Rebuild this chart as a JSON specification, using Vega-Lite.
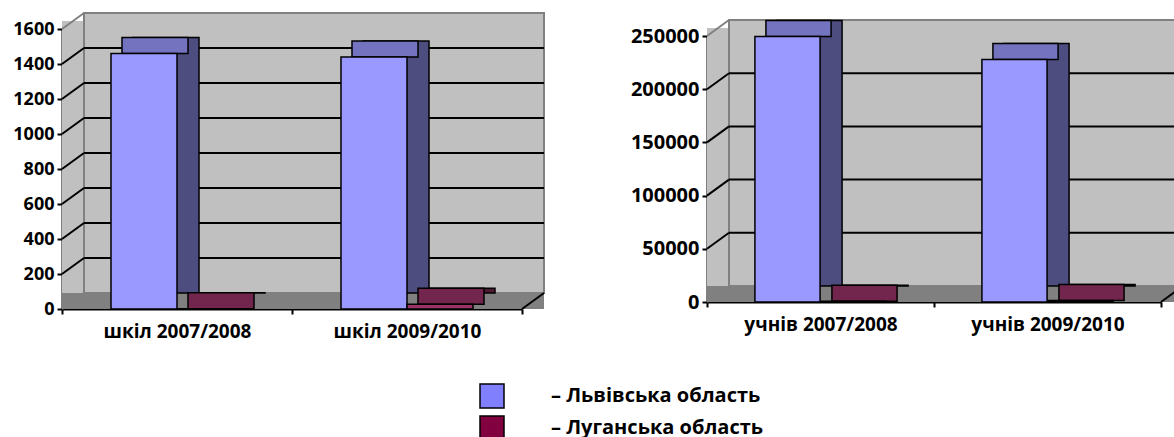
{
  "$schema": "https://vega.github.io/schema/vega-lite/v6.json",
  "autosize": {"type": "pad"},
  "bounds": "flush",
  "padding": {"left": 12, "top": 12, "right": 0, "bottom": 0},
  "background": "white",
  "spacing": 185,
  "center": true,
  "config": {
    "font": "Open Sans",
    "view": {"stroke": null},
    "axis": {
      "labelFont": "Open Sans",
      "labelFontWeight": "bold",
      "labelFontSize": 18,
      "labelColor": "black",
      "domainColor": "black",
      "domainWidth": 2,
      "tickColor": "black",
      "tickWidth": 2,
      "grid": false
    },
    "legend": {
      "orient": "none", "legendX": 417, "legendY": 354, "direction": "vertical",
      "symbolType": "square", "symbolSize": 576, "symbolStrokeColor": "black", "symbolStrokeWidth": 1.5,
      "labelFont": "Open Sans", "labelFontWeight": "bold", "labelFontSize": 20, "labelColor": "black",
      "labelOffset": 46, "rowPadding": 2, "padding": 0, "labelLimit": 400
    }
  },
  "hconcat": [
    {
      "width": 460,
      "height": 280,
      "data": {"values": [
        {"cat": "шкіл 2007/2008", "region": "Львівська область", "value": 1460},
        {"cat": "шкіл 2007/2008", "region": "Луганська область", "value": 2},
        {"cat": "шкіл 2009/2010", "region": "Львівська область", "value": 1440},
        {"cat": "шкіл 2009/2010", "region": "Луганська область", "value": 27}
      ]},
      "encoding": {
        "x": {"field": "cat", "type": "nominal", "title": null,
          "scale": {"paddingInner": 0, "paddingOuter": 0},
          "axis": {"tickBand": "extent", "tickSize": 5, "labelPadding": 8, "labelAngle": 0, "labelFontSize": 19}},
        "y": {"field": "value", "type": "quantitative", "title": null,
          "scale": {"domain": [0, 1600], "nice": false},
          "axis": {"values": [0, 200, 400, 600, 800, 1000, 1200, 1400, 1600], "format": "d", "tickSize": 5, "labelPadding": 3}}
      },
      "layer": [
        {
          "data": {"values": [{"region": "Львівська область", "lo": 0}, {"region": "Луганська область", "lo": 0}]},
          "mark": {"type": "rect", "strokeWidth": 0},
          "encoding": {
            "x": {"value": 0}, "x2": {"value": 0},
            "y": {"field": "lo"}, "y2": {"field": "lo"},
            "color": {"field": "region", "type": "nominal",
              "scale": {"domain": ["Львівська область", "Луганська область"], "range": ["#8080ff", "#800040"]},
              "legend": {"title": null, "labelExpr": "'–  ' + datum.label"}}
          }
        },
        {
          "data": {"values": [{"lo": 0, "hi": 1600}]},
          "mark": {"type": "rect", "fill": "#c0c0c0", "yOffset": -8, "y2Offset": -8},
          "encoding": {
            "x": {"value": 0}, "x2": {"value": 22},
            "y": {"field": "lo"}, "y2": {"field": "hi"}
          }
        },
        {
          "data": {"values": [{"lo": 0, "hi": 1600}]},
          "mark": {"type": "rect", "fill": "#c0c0c0", "stroke": "#808080", "strokeWidth": 2, "xOffset": 22, "x2Offset": 22, "yOffset": -16, "y2Offset": -16},
          "encoding": {
            "x": {"value": 0}, "x2": {"value": "width"},
            "y": {"field": "lo"}, "y2": {"field": "hi"}
          }
        },
        {
          "data": {"values": [{"lo": 0}]},
          "mark": {"type": "rect", "fill": "#808080", "x2Offset": 22, "yOffset": -16},
          "encoding": {
            "x": {"value": 0}, "x2": {"value": "width"},
            "y": {"field": "lo"}, "y2": {"field": "lo"}
          }
        },
        {
          "data": {"values": [{"g": 200}, {"g": 400}, {"g": 600}, {"g": 800}, {"g": 1000}, {"g": 1200}, {"g": 1400}]},
          "mark": {"type": "rule", "color": "black", "strokeWidth": 2, "xOffset": 22, "x2Offset": 22, "yOffset": -16, "y2Offset": -16},
          "encoding": {
            "x": {"value": 0}, "x2": {"value": "width"},
            "y": {"field": "g"}, "y2": {"field": "g"}
          }
        },
        {
          "data": {"values": [{"g": 200}, {"g": 400}, {"g": 600}, {"g": 800}, {"g": 1000}, {"g": 1200}, {"g": 1400}]},
          "mark": {"type": "rule", "color": "black", "strokeWidth": 2, "x2Offset": -438, "y2Offset": -16},
          "encoding": {
            "x": {"value": 0}, "x2": {"value": "width"},
            "y": {"field": "g"}, "y2": {"field": "g"}
          }
        },
        {
          "data": {"values": [{"g": 0}, {"g": 1600}]},
          "mark": {"type": "rule", "color": "#808080", "strokeWidth": 2, "x2Offset": -438, "y2Offset": -16},
          "encoding": {
            "x": {"value": 0}, "x2": {"value": "width"},
            "y": {"field": "g"}, "y2": {"field": "g"}
          }
        },
        {
          "data": {"values": [{"g": 0}]},
          "mark": {"type": "rule", "color": "black", "strokeWidth": 2, "x2Offset": 22, "y2Offset": -16},
          "encoding": {
            "x": {"value": "width"}, "x2": {"value": "width"},
            "y": {"field": "g"}, "y2": {"field": "g"}
          }
        },
        {
          "transform": [{"filter": "datum.region === 'Львівська область'"}],
          "mark": {"type": "bar", "fill": "#4d4d80", "stroke": "black", "strokeWidth": 1.5, "width": {"band": 0.287}, "xOffset": -11, "yOffset": -16, "y2Offset": -16},
          "encoding": {}
        },
        {
          "transform": [{"filter": "datum.region === 'Львівська область'"}],
          "mark": {"type": "bar", "fill": "#7373bf", "stroke": "black", "strokeWidth": 1.5, "width": {"band": 0.287}, "xOffset": -22, "yOffset": -16},
          "encoding": {"y2": {"field": "value"}}
        },
        {
          "transform": [{"filter": "datum.region === 'Львівська область'"}],
          "mark": {"type": "bar", "fill": "#9999ff", "stroke": "black", "strokeWidth": 1.5, "width": {"band": 0.287}, "xOffset": -33},
          "encoding": {}
        },
        {
          "transform": [{"filter": "datum.region === 'Луганська область'"}],
          "mark": {"type": "bar", "fill": "#4d1933", "stroke": "black", "strokeWidth": 1.5, "width": {"band": 0.287}, "xOffset": 55, "yOffset": -16, "y2Offset": -16},
          "encoding": {}
        },
        {
          "transform": [{"filter": "datum.region === 'Луганська область'"}],
          "mark": {"type": "bar", "fill": "#73264d", "stroke": "black", "strokeWidth": 1.5, "width": {"band": 0.287}, "xOffset": 44, "yOffset": -16},
          "encoding": {"y2": {"field": "value"}}
        },
        {
          "transform": [{"filter": "datum.region === 'Луганська область'"}],
          "mark": {"type": "bar", "fill": "#993366", "stroke": "black", "strokeWidth": 1.5, "width": {"band": 0.287}, "xOffset": 33},
          "encoding": {}
        }
      ]
    },
    {
      "width": 454,
      "height": 266,
      "data": {"values": [
        {"cat": "учнів 2007/2008", "region": "Львівська область", "value": 249500},
        {"cat": "учнів 2007/2008", "region": "Луганська область", "value": 800},
        {"cat": "учнів 2009/2010", "region": "Львівська область", "value": 228000},
        {"cat": "учнів 2009/2010", "region": "Луганська область", "value": 1500}
      ]},
      "encoding": {
        "x": {"field": "cat", "type": "nominal", "title": null,
          "scale": {"paddingInner": 0, "paddingOuter": 0},
          "axis": {"tickBand": "extent", "tickSize": 5, "labelPadding": 8, "labelAngle": 0, "labelFontSize": 19}},
        "y": {"field": "value", "type": "quantitative", "title": null,
          "scale": {"domain": [0, 250000], "nice": false},
          "axis": {"values": [0, 50000, 100000, 150000, 200000, 250000], "format": "d", "tickSize": 5, "labelPadding": 3, "labelFontSize": 20}}
      },
      "layer": [
        {
          "data": {"values": [{"region": "Львівська область", "lo": 0}, {"region": "Луганська область", "lo": 0}]},
          "mark": {"type": "rect", "strokeWidth": 0},
          "encoding": {
            "x": {"value": 0}, "x2": {"value": 0},
            "y": {"field": "lo"}, "y2": {"field": "lo"},
            "color": {"field": "region", "type": "nominal",
              "scale": {"domain": ["Львівська область", "Луганська область"], "range": ["#8080ff", "#800040"]},
              "legend": {"title": null, "labelExpr": "'–  ' + datum.label"}}
          }
        },
        {
          "data": {"values": [{"lo": 0, "hi": 250000}]},
          "mark": {"type": "rect", "fill": "#c0c0c0", "yOffset": -8, "y2Offset": -8},
          "encoding": {
            "x": {"value": 0}, "x2": {"value": 22},
            "y": {"field": "lo"}, "y2": {"field": "hi"}
          }
        },
        {
          "data": {"values": [{"lo": 0, "hi": 250000}]},
          "mark": {"type": "rect", "fill": "#c0c0c0", "stroke": "#808080", "strokeWidth": 2, "xOffset": 22, "x2Offset": 22, "yOffset": -16, "y2Offset": -16},
          "encoding": {
            "x": {"value": 0}, "x2": {"value": "width"},
            "y": {"field": "lo"}, "y2": {"field": "hi"}
          }
        },
        {
          "data": {"values": [{"lo": 0}]},
          "mark": {"type": "rect", "fill": "#808080", "x2Offset": 22, "yOffset": -16},
          "encoding": {
            "x": {"value": 0}, "x2": {"value": "width"},
            "y": {"field": "lo"}, "y2": {"field": "lo"}
          }
        },
        {
          "data": {"values": [{"g": 50000}, {"g": 100000}, {"g": 150000}, {"g": 200000}]},
          "mark": {"type": "rule", "color": "black", "strokeWidth": 2, "xOffset": 22, "x2Offset": 22, "yOffset": -16, "y2Offset": -16},
          "encoding": {
            "x": {"value": 0}, "x2": {"value": "width"},
            "y": {"field": "g"}, "y2": {"field": "g"}
          }
        },
        {
          "data": {"values": [{"g": 50000}, {"g": 100000}, {"g": 150000}, {"g": 200000}]},
          "mark": {"type": "rule", "color": "black", "strokeWidth": 2, "x2Offset": -432, "y2Offset": -16},
          "encoding": {
            "x": {"value": 0}, "x2": {"value": "width"},
            "y": {"field": "g"}, "y2": {"field": "g"}
          }
        },
        {
          "data": {"values": [{"g": 0}, {"g": 250000}]},
          "mark": {"type": "rule", "color": "#808080", "strokeWidth": 2, "x2Offset": -432, "y2Offset": -16},
          "encoding": {
            "x": {"value": 0}, "x2": {"value": "width"},
            "y": {"field": "g"}, "y2": {"field": "g"}
          }
        },
        {
          "data": {"values": [{"g": 0}]},
          "mark": {"type": "rule", "color": "black", "strokeWidth": 2, "x2Offset": 22, "y2Offset": -16},
          "encoding": {
            "x": {"value": "width"}, "x2": {"value": "width"},
            "y": {"field": "g"}, "y2": {"field": "g"}
          }
        },
        {
          "transform": [{"filter": "datum.region === 'Львівська область'"}],
          "mark": {"type": "bar", "fill": "#4d4d80", "stroke": "black", "strokeWidth": 1.5, "width": {"band": 0.287}, "xOffset": -11, "yOffset": -16, "y2Offset": -16},
          "encoding": {}
        },
        {
          "transform": [{"filter": "datum.region === 'Львівська область'"}],
          "mark": {"type": "bar", "fill": "#7373bf", "stroke": "black", "strokeWidth": 1.5, "width": {"band": 0.287}, "xOffset": -22, "yOffset": -16},
          "encoding": {"y2": {"field": "value"}}
        },
        {
          "transform": [{"filter": "datum.region === 'Львівська область'"}],
          "mark": {"type": "bar", "fill": "#9999ff", "stroke": "black", "strokeWidth": 1.5, "width": {"band": 0.287}, "xOffset": -33},
          "encoding": {}
        },
        {
          "transform": [{"filter": "datum.region === 'Луганська область'"}],
          "mark": {"type": "bar", "fill": "#4d1933", "stroke": "black", "strokeWidth": 1.5, "width": {"band": 0.287}, "xOffset": 55, "yOffset": -16, "y2Offset": -16},
          "encoding": {}
        },
        {
          "transform": [{"filter": "datum.region === 'Луганська область'"}],
          "mark": {"type": "bar", "fill": "#73264d", "stroke": "black", "strokeWidth": 1.5, "width": {"band": 0.287}, "xOffset": 44, "yOffset": -16},
          "encoding": {"y2": {"field": "value"}}
        },
        {
          "transform": [{"filter": "datum.region === 'Луганська область'"}],
          "mark": {"type": "bar", "fill": "#993366", "stroke": "black", "strokeWidth": 1.5, "width": {"band": 0.287}, "xOffset": 33},
          "encoding": {}
        }
      ]
    }
  ]
}
